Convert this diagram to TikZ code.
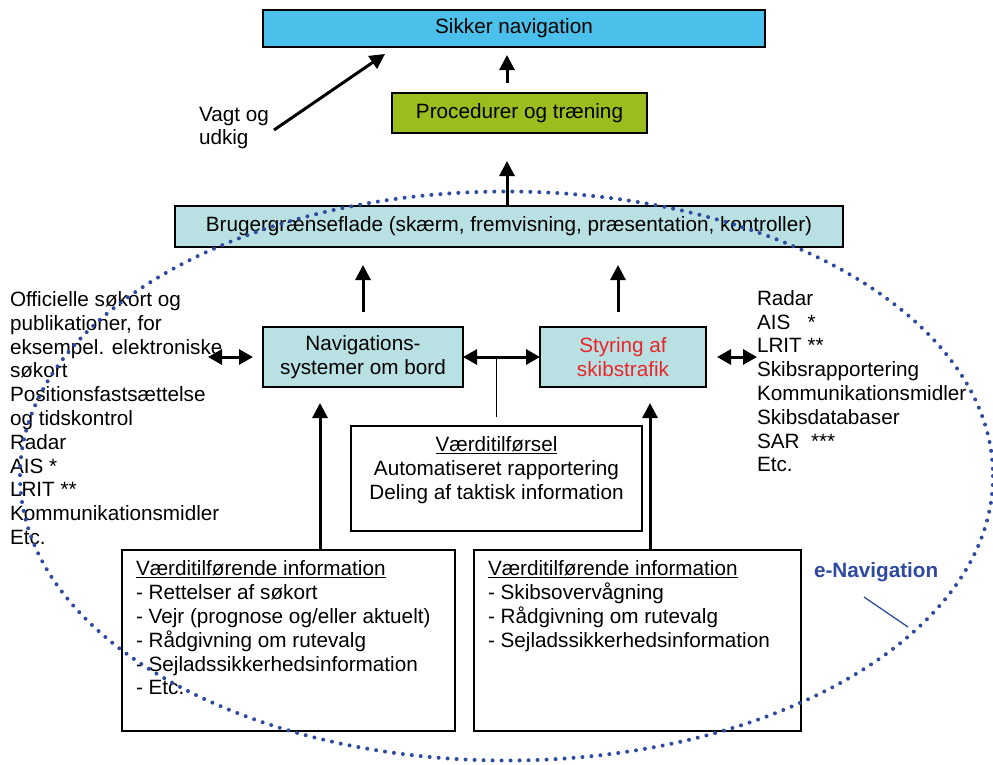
\documentclass[tikz,border=0pt]{standalone}
\usepackage{fontspec}
\setmainfont{Liberation Sans}
\usetikzlibrary{arrows.meta,calc}
\definecolor{cskyb}{RGB}{75,192,234}
\definecolor{cgreen}{RGB}{155,190,30}
\definecolor{cteal}{RGB}{185,225,227}
\definecolor{cred}{RGB}{232,38,42}
\definecolor{cdot}{RGB}{47,75,160}
\begin{document}
\begin{tikzpicture}[x=1pt,y=-1pt,
  every node/.style={font=\fontsize{20.7}{23.8}\selectfont, inner sep=0pt, outer sep=0pt},
  rbox/.style={draw=black, line width=1.6pt, rectangle, align=center},
  arr/.style={line width=3pt, -{Triangle[length=15pt,width=15pt]}},
  arrtwo/.style={line width=3pt, {Triangle[length=14pt,width=15pt]}-{Triangle[length=14pt,width=15pt]}},
  thinline/.style={line width=1.3pt},
  dotline/.style={cdot, line width=4pt, dash pattern=on 0pt off 9pt, line cap=round}]
\useasboundingbox (0,0) rectangle (993,764);

% boxes
\node[rbox, fill=cskyb, minimum width=502pt, minimum height=37pt] (sik) at (514,28.5) {Sikker navigation};
\node[rbox, fill=cgreen, minimum width=255pt, minimum height=40pt] (proc) at (519.5,113) {Procedurer og træning};
\node[rbox, fill=cteal, minimum width=668pt, minimum height=41pt] (brug) at (509,226.5) {Brugergrænseflade (skærm, fremvisning, præsentation, kontroller)};
\node[rbox, fill=cteal, minimum width=200pt, minimum height=60pt] (nav) at (363,357) {Navigations-\\systemer om bord};
\node[rbox, fill=cteal, minimum width=166pt, minimum height=60pt, text=cred] (styr) at (623,357) {Styring af\\skibstrafik};
\node[rbox, minimum width=291pt, minimum height=105pt] (vaerd) at (496.5,478.5) {};
\node[rbox, minimum width=333pt, minimum height=181pt] (bl) at (288.5,640.5) {};
\node[rbox, minimum width=327pt, minimum height=181pt] (br) at (637.5,640.5) {};

% texts
\node[anchor=north, align=center] (vaerdtxt) at (496.5,436.8) {\underline{Værditilførsel}\\Automatiseret rapportering\\Deling af taktisk information};
\node[anchor=north west, align=left] (bltxt) at (136,560.8) {\underline{Værditilførende information}\\- Rettelser af søkort\\- Vejr (prognose og/eller aktuelt)\\- Rådgivning om rutevalg\\- Sejladssikkerhedsinformation\\- Etc.};
\node[anchor=north west, align=left] (brtxt) at (488,560.8) {\underline{Værditilførende information}\\- Skibsovervågning\\- Rådgivning om rutevalg\\- Sejladssikkerhedsinformation};
\node[anchor=north west, align=left] (llist) at (10,291.4) {Officielle søkort og\\publikationer, for\\eksempel. elektroniske\\søkort\\Positionsfastsættelse\\og tidskontrol\\Radar\\AIS *\\LRIT **\\Kommunikationsmidler\\Etc.};
\node[anchor=north west, align=left] (rlist) at (757,290.2) {Radar\\AIS\ \ \ *\\LRIT **\\Skibsrapportering\\Kommunikationsmidler\\Skibsdatabaser\\SAR\ \ ***\\Etc.};
\node[anchor=north west, align=left] (vagt) at (199,106.9) {Vagt og\\udkig};
\node[anchor=base west, text=cdot, font=\fontsize{20.7}{23.8}\selectfont\bfseries] (enav) at (814,577) {e-Navigation};

% coordinates
\coordinate (xc) at (507,0);
\coordinate (xl) at (320,0);
\coordinate (xr) at (650,0);
\coordinate (xs) at (618,0);
\coordinate (vtail) at (274,130);
\coordinate (vhead) at (385,54);
\coordinate (lend) at (208,357);
\coordinate (etail) at (864,597);
\coordinate (ehead) at (908,627);

% connectors
\draw[arr, shorten <=10pt, shorten >=8pt] (proc.north -| xc) -- (sik.south -| xc);
\draw[arr, shorten >=28pt] (brug.north -| xc) -- (proc.south -| xc);
\draw[arr, shorten <=15pt, shorten >=18pt] (nav.north) -- (nav.north |- brug.south);
\draw[arr, shorten <=15pt, shorten >=18pt] (styr.north -| xs) -- (brug.south -| xs);
\draw[arr, shorten >=16pt] (bl.north -| xl) -- (nav.south -| xl);
\draw[arr, shorten >=16pt] (br.north -| xr) -- (styr.south -| xr);
\draw[arrtwo] (nav.east) -- (styr.west);
\draw[arrtwo, shorten >=10pt] (lend) -- (nav.west);
\draw[arrtwo, shorten <=11pt] (styr.east) -- (styr.east -| rlist.west);
\draw[thinline, shorten >=9pt] (vaerd.north |- nav.east) -- (vaerd.north);
\draw[arr] (vtail) -- (vhead);
\draw[cdot, thinline] (etail) -- (ehead);

% e-Navigation boundary
\draw[dotline] (506.5,476) ellipse [x radius=486.5, y radius=284.5];
\end{tikzpicture}
\end{document}
